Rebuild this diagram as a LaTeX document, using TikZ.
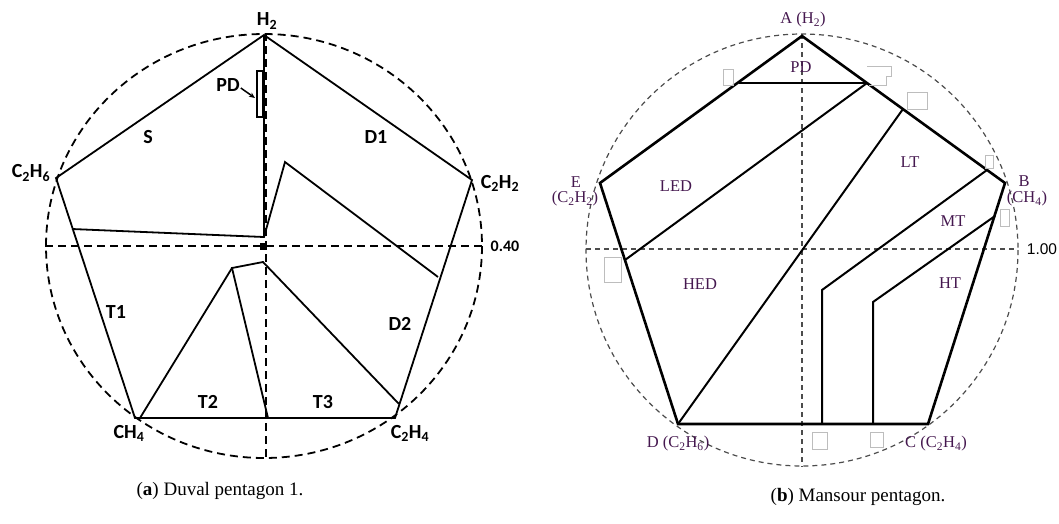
\documentclass[tikz,border=0pt]{standalone}
\usepackage{fontspec}
\usetikzlibrary{arrows.meta}
\newfontfamily\duvalfont{Carlito}
\newfontfamily\mansourfont{Liberation Serif}
\newfontfamily\axisfont{Liberation Sans}
\definecolor{mlabel}{HTML}{45184F}
\definecolor{boxgray}{HTML}{BDBDBD}
\newcommand{\sub}[1]{\textsubscript{#1}}
\tikzset{
    dlabel/.style={font=\duvalfont\bfseries\fontsize{20}{22}\selectfont, inner sep=0pt},
    mlbl/.style={font=\mansourfont\fontsize{16.5}{18}\selectfont, text=mlabel, inner sep=0pt},
    dedge/.style={line width=1.8pt},
    medge/.style={line width=2.6pt},
    minner/.style={line width=2pt},
    dguide/.style={line width=1.8pt, dash pattern=on 8pt off 5pt},
    mguide/.style={line width=1.2pt, dash pattern=on 5pt off 4pt, draw=black!70},
    scanbox/.style={draw=boxgray, line width=0.8pt},
    caption/.style={font=\mansourfont\fontsize{19}{21}\selectfont, inner sep=0pt},
}

\begin{document}
\begin{tikzpicture}[x=1pt, y=-1pt]
            \useasboundingbox (0,0) rectangle (1059,523);

            % Duval pentagon 1
            \coordinate (H2)   at (264,35);
            \coordinate (C2H2) at (472,180);
            \coordinate (C2H4) at (395,418);
            \coordinate (CH4)  at (135,418);
            \coordinate (C2H6) at (56,178);
            \coordinate (dc)   at (264,246);
            \coordinate (sd)   at (264,237);
            \coordinate (st)   at (72,229);
            \coordinate (dk)   at (285,162);
            \coordinate (dd)   at (438,277);
            \coordinate (tc)   at (263,262);
            \coordinate (tk)   at (232,268);
            \coordinate (tb)   at (268,418);
            \coordinate (tl)   at (140,418);
            \coordinate (tr)   at (399,404);
            \coordinate (vt)   at (266,33);
            \coordinate (vb)   at (266,459);
            \coordinate (hl)   at (45,246);
            \coordinate (hr)   at (482,246);

            \draw[dguide] (dc) circle[x radius=218, y radius=212];
            \draw[dguide] (vt) -- (vb);
            \draw[dguide] (hl) -- (hr);

            \draw[dedge] (H2) -- (C2H2) -- (C2H4) -- (CH4) -- (C2H6) -- cycle;
            \draw[dedge] (H2) -- (sd);
            \draw[dedge] (st) -- (sd) -- (dk) -- (dd);
            \draw[dedge] (tr) -- (tc) -- (tk) -- (tb);
            \draw[dedge] (tl) -- (tk);
            \fill (259.5,242.5) rectangle (266.5,249.5);
            \draw[line width=1.3pt, fill=white] (257,71) rectangle (263,117);

            \node[dlabel] (pd)  at (228,85) {PD};
            \coordinate (pdtip) at (255,98);
            \draw[line width=1.5pt, -{Stealth[length=6pt, width=5pt]}] (pd.east) ++(1,3) -- (pdtip);

            \node[dlabel] (lH2)   at (267,21)  {H\sub{2}};
            \node[dlabel] (lC2H6) at (31,173)  {C\sub{2}H\sub{6}};
            \node[dlabel] (lC2H2) at (500,183) {C\sub{2}H\sub{2}};
            \node[dlabel] (lCH4)  at (129,433) {CH\sub{4}};
            \node[dlabel] (lC2H4) at (410,433) {C\sub{2}H\sub{4}};
            \node[dlabel, font=\duvalfont\bfseries\fontsize{16}{18}\selectfont] (l040) at (505,246) {0.40};
            \node[dlabel] (S)  at (148,137) {S};
            \node[dlabel] (D1) at (376,137) {D1};
            \node[dlabel] (T1) at (116,312) {T1};
            \node[dlabel] (D2) at (400,324) {D2};
            \node[dlabel] (T2) at (208,402) {T2};
            \node[dlabel] (T3) at (323,402) {T3};

            % Mansour pentagon
            \coordinate (A) at (802,36);
            \coordinate (B) at (1005,183);
            \coordinate (C) at (928,424);
            \coordinate (D) at (678,424);
            \coordinate (E) at (600,183);
            \coordinate (mc)  at (802,250);
            \coordinate (pdl) at (739,83);
            \coordinate (pdr) at (867,83);
            \coordinate (led) at (625,260);
            \coordinate (lt)  at (903,109);
            \coordinate (mt1) at (987,170);
            \coordinate (mt2) at (822,290);
            \coordinate (mt3) at (822,424);
            \coordinate (ht1) at (995,216);
            \coordinate (ht2) at (873,302);
            \coordinate (ht3) at (873,424);
            \coordinate (mvt) at (802,34);
            \coordinate (mvb) at (802,467);
            \coordinate (mhl) at (586,249);
            \coordinate (mhr) at (1017,249);

            \draw[mguide] (mc) circle[radius=216];
            \draw[mguide] (mvt) -- (mvb);
            \draw[mguide] (mhl) -- (mhr);

            \draw[line width=1.5pt] (pdl) -- (pdr);
            \draw[minner] (pdr) -- (led);
            \draw[minner] (lt) -- (D);
            \draw[minner] (mt1) -- (mt2) -- (mt3);
            \draw[minner] (ht1) -- (ht2) -- (ht3);
            \draw[medge] (A) -- (B) -- (C) -- (D) -- (E) -- cycle;

            \draw[scanbox] (723,69) rectangle (733,85);
            \draw[scanbox] (867,66) -- (891,66) -- (891,76) -- (886,76) -- (886,85) -- (869,85);
            \draw[scanbox] (907,92) rectangle (927,109);
            \draw[scanbox] (985,155) rectangle (993,168);
            \draw[scanbox] (1000,209) rectangle (1009,226);
            \draw[scanbox] (604,257) rectangle (621,282);
            \draw[scanbox] (812,432) rectangle (827,449);
            \draw[scanbox] (870,432) rectangle (883,447);

            \node[mlbl] (lA)   at (803,20)  {A (H\sub{2})};
            \node[mlbl] (mPD)  at (801,67)  {PD};
            \node[mlbl] (lE)   at (576,182) {E};
            \node[mlbl] (lE2)  at (575,199) {(C\sub{2}H\sub{2})};
            \node[mlbl] (lB)   at (1024,181) {B};
            \node[mlbl] (lB2)  at (1027,199) {(CH\sub{4})};
            \node[mlbl] (LED)  at (676,186) {LED};
            \node[mlbl] (LT)   at (910,162) {LT};
            \node[mlbl] (MT)   at (953,221) {MT};
            \node[mlbl] (HED)  at (700,284) {HED};
            \node[mlbl] (HT)   at (950,283) {HT};
            \node[mlbl] (lD)   at (678,444) {D (C\sub{2}H\sub{6})};
            \node[mlbl] (lC)   at (936,444) {C (C\sub{2}H\sub{4})};
            \node[inner sep=0pt, font=\axisfont\fontsize{15.5}{17}\selectfont] (l100) at (1042,249) {1.00};

            \node[caption] (capa) at (220,491) {(\textbf{a}) Duval pentagon 1.};
            \node[caption] (capb) at (858,497) {(\textbf{b}) Mansour pentagon.};
        \end{tikzpicture}
\end{document}
